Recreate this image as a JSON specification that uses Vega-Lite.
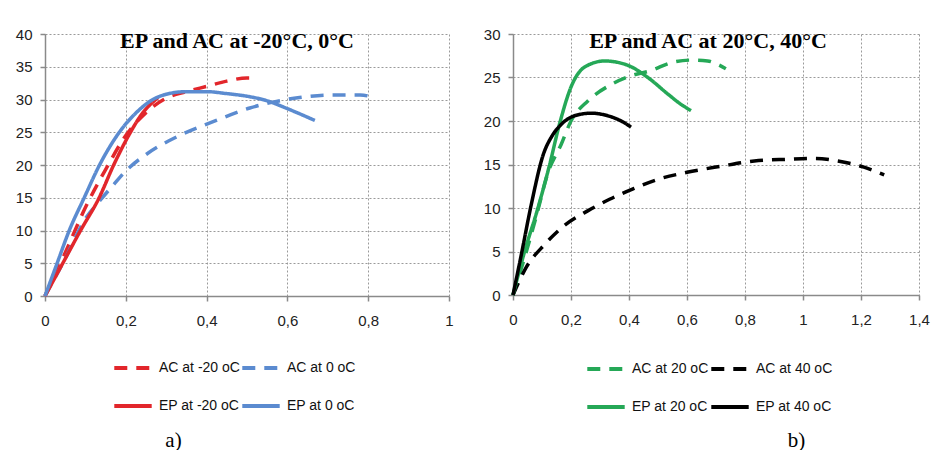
{
  "$schema": "https://vega.github.io/schema/vega-lite/v6.json",
  "background": "white",
  "padding": {"left": 15, "top": 27, "right": 3, "bottom": 0},
  "spacing": 29,
  "datasets": {
    "a": [
      {"series": "AC at -20 oC", "x": 0, "y": 0},
      {"series": "AC at -20 oC", "x": 0.05, "y": 6.6},
      {"series": "AC at -20 oC", "x": 0.1, "y": 13.5},
      {"series": "AC at -20 oC", "x": 0.15, "y": 19.3},
      {"series": "AC at -20 oC", "x": 0.2, "y": 24.5},
      {"series": "AC at -20 oC", "x": 0.25, "y": 28},
      {"series": "AC at -20 oC", "x": 0.3, "y": 30.2},
      {"series": "AC at -20 oC", "x": 0.35, "y": 31.2},
      {"series": "AC at -20 oC", "x": 0.4, "y": 32},
      {"series": "AC at -20 oC", "x": 0.45, "y": 32.8},
      {"series": "AC at -20 oC", "x": 0.5, "y": 33.3},
      {"series": "AC at -20 oC", "x": 0.52, "y": 33.3},
      {"series": "AC at 0 oC", "x": 0, "y": 0},
      {"series": "AC at 0 oC", "x": 0.05, "y": 5.7},
      {"series": "AC at 0 oC", "x": 0.1, "y": 11.8},
      {"series": "AC at 0 oC", "x": 0.135, "y": 14.5},
      {"series": "AC at 0 oC", "x": 0.167, "y": 16.8},
      {"series": "AC at 0 oC", "x": 0.2, "y": 19.1},
      {"series": "AC at 0 oC", "x": 0.25, "y": 21.6},
      {"series": "AC at 0 oC", "x": 0.333, "y": 24.5},
      {"series": "AC at 0 oC", "x": 0.424, "y": 26.8},
      {"series": "AC at 0 oC", "x": 0.507, "y": 28.7},
      {"series": "AC at 0 oC", "x": 0.564, "y": 29.6},
      {"series": "AC at 0 oC", "x": 0.63, "y": 30.3},
      {"series": "AC at 0 oC", "x": 0.713, "y": 30.7},
      {"series": "AC at 0 oC", "x": 0.78, "y": 30.7},
      {"series": "AC at 0 oC", "x": 0.817, "y": 30.2},
      {"series": "EP at -20 oC", "x": 0, "y": 0},
      {"series": "EP at -20 oC", "x": 0.044, "y": 5},
      {"series": "EP at -20 oC", "x": 0.088, "y": 10},
      {"series": "EP at -20 oC", "x": 0.134, "y": 15},
      {"series": "EP at -20 oC", "x": 0.17, "y": 20},
      {"series": "EP at -20 oC", "x": 0.207, "y": 24.5},
      {"series": "EP at -20 oC", "x": 0.24, "y": 27.8},
      {"series": "EP at -20 oC", "x": 0.28, "y": 30.3},
      {"series": "EP at 0 oC", "x": 0, "y": 0},
      {"series": "EP at 0 oC", "x": 0.03, "y": 5},
      {"series": "EP at 0 oC", "x": 0.06, "y": 10},
      {"series": "EP at 0 oC", "x": 0.097, "y": 15},
      {"series": "EP at 0 oC", "x": 0.135, "y": 20},
      {"series": "EP at 0 oC", "x": 0.184, "y": 25},
      {"series": "EP at 0 oC", "x": 0.226, "y": 28},
      {"series": "EP at 0 oC", "x": 0.267, "y": 30},
      {"series": "EP at 0 oC", "x": 0.3, "y": 30.8},
      {"series": "EP at 0 oC", "x": 0.35, "y": 31.2},
      {"series": "EP at 0 oC", "x": 0.4, "y": 31.2},
      {"series": "EP at 0 oC", "x": 0.45, "y": 30.9},
      {"series": "EP at 0 oC", "x": 0.5, "y": 30.5},
      {"series": "EP at 0 oC", "x": 0.55, "y": 29.8},
      {"series": "EP at 0 oC", "x": 0.6, "y": 28.6},
      {"series": "EP at 0 oC", "x": 0.668, "y": 26.8}
    ],
    "b": [
      {"series": "AC at 20 oC", "x": 0, "y": 0},
      {"series": "AC at 20 oC", "x": 0.04, "y": 4.3},
      {"series": "AC at 20 oC", "x": 0.08, "y": 9},
      {"series": "AC at 20 oC", "x": 0.12, "y": 14},
      {"series": "AC at 20 oC", "x": 0.166, "y": 17.3},
      {"series": "AC at 20 oC", "x": 0.2, "y": 20},
      {"series": "AC at 20 oC", "x": 0.258, "y": 22.3},
      {"series": "AC at 20 oC", "x": 0.339, "y": 24.2},
      {"series": "AC at 20 oC", "x": 0.407, "y": 25.2},
      {"series": "AC at 20 oC", "x": 0.476, "y": 25.8},
      {"series": "AC at 20 oC", "x": 0.545, "y": 26.7},
      {"series": "AC at 20 oC", "x": 0.614, "y": 27},
      {"series": "AC at 20 oC", "x": 0.671, "y": 26.9},
      {"series": "AC at 20 oC", "x": 0.706, "y": 26.5},
      {"series": "AC at 20 oC", "x": 0.734, "y": 26},
      {"series": "AC at 40 oC", "x": 0, "y": 0},
      {"series": "AC at 40 oC", "x": 0.046, "y": 3.2},
      {"series": "AC at 40 oC", "x": 0.109, "y": 5.8},
      {"series": "AC at 40 oC", "x": 0.178, "y": 8},
      {"series": "AC at 40 oC", "x": 0.259, "y": 9.7},
      {"series": "AC at 40 oC", "x": 0.333, "y": 11},
      {"series": "AC at 40 oC", "x": 0.414, "y": 12.2},
      {"series": "AC at 40 oC", "x": 0.5, "y": 13.3},
      {"series": "AC at 40 oC", "x": 0.6, "y": 14.1},
      {"series": "AC at 40 oC", "x": 0.717, "y": 14.8},
      {"series": "AC at 40 oC", "x": 0.832, "y": 15.4},
      {"series": "AC at 40 oC", "x": 0.947, "y": 15.6},
      {"series": "AC at 40 oC", "x": 1.04, "y": 15.7},
      {"series": "AC at 40 oC", "x": 1.12, "y": 15.4},
      {"series": "AC at 40 oC", "x": 1.21, "y": 14.7},
      {"series": "AC at 40 oC", "x": 1.28, "y": 13.8},
      {"series": "EP at 20 oC", "x": 0, "y": 0},
      {"series": "EP at 20 oC", "x": 0.04, "y": 5},
      {"series": "EP at 20 oC", "x": 0.086, "y": 10},
      {"series": "EP at 20 oC", "x": 0.125, "y": 14.8},
      {"series": "EP at 20 oC", "x": 0.16, "y": 19.6},
      {"series": "EP at 20 oC", "x": 0.2, "y": 23.9},
      {"series": "EP at 20 oC", "x": 0.247, "y": 26.2},
      {"series": "EP at 20 oC", "x": 0.316, "y": 26.9},
      {"series": "EP at 20 oC", "x": 0.396, "y": 26.4},
      {"series": "EP at 20 oC", "x": 0.465, "y": 25},
      {"series": "EP at 20 oC", "x": 0.534, "y": 23.1},
      {"series": "EP at 20 oC", "x": 0.58, "y": 21.9},
      {"series": "EP at 20 oC", "x": 0.614, "y": 21.2},
      {"series": "EP at 40 oC", "x": 0, "y": 0},
      {"series": "EP at 40 oC", "x": 0.029, "y": 4.7},
      {"series": "EP at 40 oC", "x": 0.063, "y": 10.4},
      {"series": "EP at 40 oC", "x": 0.105, "y": 16.2},
      {"series": "EP at 40 oC", "x": 0.135, "y": 18.3},
      {"series": "EP at 40 oC", "x": 0.166, "y": 19.6},
      {"series": "EP at 40 oC", "x": 0.212, "y": 20.6},
      {"series": "EP at 40 oC", "x": 0.27, "y": 20.9},
      {"series": "EP at 40 oC", "x": 0.327, "y": 20.6},
      {"series": "EP at 40 oC", "x": 0.373, "y": 20},
      {"series": "EP at 40 oC", "x": 0.407, "y": 19.3}
    ]
  },
  "hconcat": [
    {
      "width": 404,
      "height": 262,
      "data": {"name": "a"},
      "title": {"text": "EP and AC at -20°C, 0°C", "orient": "top", "offset": -26, "dx": -10},
      "mark": {"type": "line", "strokeWidth": 3.5, "interpolate": "monotone", "strokeCap": "butt"},
      "encoding": {
        "x": {
          "field": "x", "type": "quantitative",
          "scale": {"domain": [0, 1], "nice": false},
          "axis": {"values": [0, 0.2, 0.4, 0.6, 0.8, 1], "format": ".1~f", "labelExpr": "replace(datum.label, '.', ',')",
                   "title": "a)", "titleX": 128, "titleY": 144}
        },
        "y": {
          "field": "y", "type": "quantitative",
          "scale": {"domain": [0, 40], "nice": false},
          "axis": {"values": [0, 5, 10, 15, 20, 25, 30, 35, 40], "title": null}
        },
        "color": {
          "field": "series", "type": "nominal",
          "scale": {"domain": ["AC at -20 oC", "AC at 0 oC", "EP at -20 oC", "EP at 0 oC"],
                    "range": ["#E2262B", "#5B8BD0", "#E2262B", "#5B8BD0"]},
          "legend": {"orient": "none", "legendX": 67, "legendY": 313, "columns": 2, "direction": "horizontal"}
        },
        "strokeDash": {
          "field": "series", "type": "nominal",
          "scale": {"domain": ["AC at -20 oC", "AC at 0 oC", "EP at -20 oC", "EP at 0 oC"],
                    "range": [[13, 9], [13, 9], [1, 0], [1, 0]]},
          "legend": {"orient": "none", "legendX": 67, "legendY": 313, "columns": 2, "direction": "horizontal"}
        }
      }
    },
    {
      "width": 406,
      "height": 261,
      "data": {"name": "b"},
      "title": {"text": "EP and AC at 20°C, 40°C", "orient": "top", "offset": -26, "dx": -8},
      "mark": {"type": "line", "strokeWidth": 3.5, "interpolate": "monotone", "strokeCap": "butt"},
      "encoding": {
        "x": {
          "field": "x", "type": "quantitative",
          "scale": {"domain": [0, 1.4], "nice": false},
          "axis": {"values": [0, 0.2, 0.4, 0.6, 0.8, 1, 1.2, 1.4], "format": ".1~f", "labelExpr": "replace(datum.label, '.', ',')",
                   "title": "b)", "titleX": 283, "titleY": 145}
        },
        "y": {
          "field": "y", "type": "quantitative",
          "scale": {"domain": [0, 30], "nice": false},
          "axis": {"values": [0, 5, 10, 15, 20, 25, 30], "title": null}
        },
        "color": {
          "field": "series", "type": "nominal",
          "scale": {"domain": ["AC at 20 oC", "AC at 40 oC", "EP at 20 oC", "EP at 40 oC"],
                    "range": ["#25A857", "#000000", "#25A857", "#000000"]},
          "legend": {"orient": "none", "legendX": 72, "legendY": 314, "columns": 2, "direction": "horizontal"}
        },
        "strokeDash": {
          "field": "series", "type": "nominal",
          "scale": {"domain": ["AC at 20 oC", "AC at 40 oC", "EP at 20 oC", "EP at 40 oC"],
                    "range": [[13, 9], [13, 9], [1, 0], [1, 0]]},
          "legend": {"orient": "none", "legendX": 72, "legendY": 314, "columns": 2, "direction": "horizontal"}
        }
      }
    }
  ],
  "resolve": {"scale": {"color": "independent", "strokeDash": "independent"}, "legend": {"color": "independent", "strokeDash": "independent"}},
  "config": {
    "view": {"stroke": null},
    "title": {"font": "Liberation Serif", "fontSize": 22, "fontWeight": "bold", "color": "#000", "anchor": "middle", "baseline": "bottom"},
    "axis": {
      "grid": true, "gridColor": "#9a9a9a", "gridDash": [2, 2], "gridWidth": 1,
      "domainColor": "#8a8a8a", "domainWidth": 1.5, "tickColor": "#8a8a8a", "tickSize": 5, "tickWidth": 1.5,
      "labelFont": "Liberation Sans", "labelFontSize": 15, "labelColor": "#222", "labelPadding": 8, "labelFlush": false,
      "titleFont": "Liberation Serif", "titleFontSize": 21, "titleFontWeight": "normal", "titleColor": "#000", "titleBaseline": "middle"
    },
    "axisX": {"labelPadding": 12},
    "legend": {
      "title": null, "symbolType": "stroke", "symbolSize": 1400, "symbolStrokeWidth": 4,
      "labelFont": "Liberation Sans Narrow, Liberation Sans", "labelFontSize": 14, "labelColor": "#111",
      "labelLimit": 0, "labelOffset": 5, "rowPadding": 9, "columnPadding": -8
    }
  }
}
